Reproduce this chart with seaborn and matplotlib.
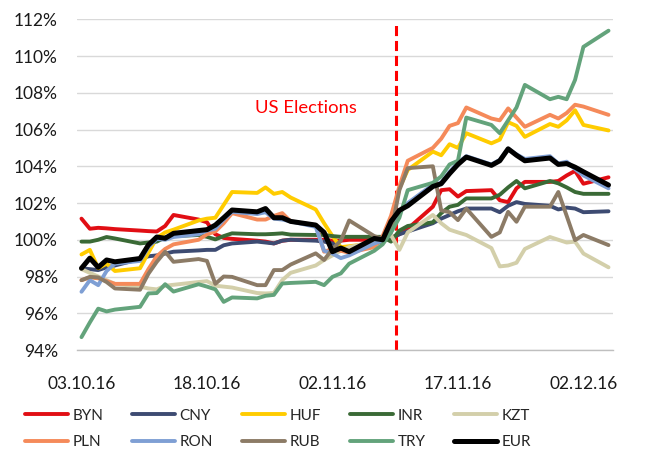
import numpy as np
import pandas as pd
import matplotlib
matplotlib.use("Agg")
import matplotlib.pyplot as plt
import matplotlib.dates as mdates
from matplotlib.ticker import FixedLocator, FuncFormatter
import seaborn as sns

# ---------------- data ----------------
dates = pd.bdate_range("2016-10-03", "2016-12-05")

currencies = ["BYN", "CNY", "HUF", "INR", "KZT", "PLN", "RON", "RUB", "TRY", "EUR"]

BYN = [101.15, 100.6, 100.65, 100.62, 100.58,
       100.5, 100.47, 100.45, 100.75, 101.35,
       101.1, 100.95, 100.3, 100.1, 100.05,
       99.95, 99.9, 99.8, 99.95, 100.0,
       100.0, 100.0, 99.95, 99.95, 100.0,
       100.0, 100.05, 100.1, 100.3, 100.6,
       101.8, 102.7, 102.75, 102.35, 102.65,
       102.7, 102.15, 102.05, 102.8, 103.15,
       103.15, 103.2, 103.5, 103.75, 103.05,
       103.4]
CNY = [98.45, 98.4, 98.35, 98.5, 98.6,
       98.95, 99.1, 99.15, 99.25, 99.35,
       99.42, 99.45, 99.45, 99.7, 99.8,
       99.9, 99.85, 99.8, 99.95, 100.0,
       99.95, 99.9, 99.8, 99.55, 99.55,
       99.75, 99.95, 100.1, 100.3, 100.45,
       100.9, 101.15, 101.35, 101.55, 101.7,
       101.7, 101.5, 101.85, 102.05, 101.95,
       101.85, 101.65, 101.75, 101.7, 101.5,
       101.55]
HUF = [99.2, 99.45, 98.45, 98.7, 98.3,
       98.45, 99.3, 100.1, 100.4, 100.55,
       101.05, 101.15, 101.2, 101.9, 102.6,
       102.55, 102.85, 102.5, 102.6, 102.3,
       101.65, 100.9, 100.2, 99.6, 99.65,
       99.8, 100.0, 101.0, 102.8, 103.8,
       104.8, 104.6, 105.2, 105.0, 105.8,
       105.25, 105.45, 106.4, 106.2, 105.6,
       106.3, 106.15, 106.5, 107.05, 106.25,
       105.95]
INR = [99.9, 99.9, 100.0, 100.15, 100.07,
       99.8, 99.85, 99.9, 100.13, 100.2,
       100.26, 100.16, 100.02, 100.2, 100.35,
       100.3, 100.3, 100.32, 100.35, 100.28,
       100.26, 100.26, 100.2, 100.16, 100.16,
       100.16, 100.16, 99.9, 100.5, 100.75,
       100.95, 101.45, 101.8, 101.9, 102.25,
       102.25, 102.45, 102.85, 103.2, 102.8,
       103.2, 103.07, 102.85, 102.6, 102.5,
       102.5]
KZT = [98.4, 98.2, 98.0, 97.8, 97.6,
       97.45, 97.35, 97.3, 97.5, 97.55,
       97.7, 97.75, 97.5, 97.45, 97.4,
       97.1, 97.08, 97.1, 97.8, 98.2,
       98.6, 98.9, 99.15, 99.4, 99.6,
       99.9, 100.1, 100.25, 99.45, 100.4,
       101.35, 100.9, 100.55, 100.4, 100.26,
       99.55, 98.55, 98.6, 98.75, 99.5,
       100.15, 100.0, 99.85, 99.9, 99.25,
       98.5]
PLN = [97.8, 97.95, 97.9, 97.75, 97.6,
       97.6, 98.4, 99.1, 99.5, 99.75,
       100.0, 100.3, 100.45, 100.9, 101.45,
       101.1, 101.1, 101.3, 101.45, 101.0,
       100.8, 99.35, 99.5, 99.4, 99.3,
       99.6, 100.2, 101.3, 102.9, 104.3,
       105.0, 105.5, 106.2, 106.35, 107.2,
       106.6, 106.5, 107.15, 106.65, 106.15,
       106.8, 106.6, 106.9, 107.35, 107.25,
       106.8]
RON = [97.17, 97.8, 97.53, 98.3, 98.7,
       98.85, 99.6, 100.05, 100.0, 100.15,
       100.3, 100.5, 100.6, 101.1, 101.52,
       101.4, 101.5, 101.15, 101.1, 101.0,
       100.7, 99.4, 99.25, 99.0, 99.15,
       99.8, 99.95, 100.5, 101.5, 102.0,
       103.0, 103.1, 103.7, 104.2, 104.55,
       104.1, 104.35, 104.95, 104.65, 104.4,
       104.55, 104.15, 104.25, 103.85, 103.5,
       102.8]
RUB = [97.8, 97.98, 97.95, 97.7, 97.35,
       97.28, 98.15, 98.8, 99.35, 98.8,
       98.95, 98.85, 97.6, 98.0, 97.98,
       97.53, 97.53, 98.35, 98.35, 98.65,
       99.26, 98.9, 99.5, 99.95, 101.05,
       100.2, 100.05, 100.4, 102.7, 103.9,
       104.0, 101.6, 101.5, 101.07, 101.7,
       100.16, 100.4, 101.52, 100.98, 101.8,
       101.8, 102.6, 101.3, 99.98, 100.26,
       99.71]
TRY = [94.7, 95.5, 96.25, 96.1, 96.2,
       96.35, 97.08, 97.1, 97.58, 97.18,
       97.58, 97.45, 97.3, 96.62, 96.86,
       96.81, 96.95, 97.0, 97.62, 97.65,
       97.71, 97.53, 97.98, 98.17, 98.7,
       99.4, 99.75, 100.4, 101.2, 102.7,
       103.1, 103.45, 104.1, 104.3, 106.65,
       106.25, 105.8, 106.5, 107.2, 108.43,
       107.65, 107.78, 107.65, 108.7, 110.5,
       111.38]
EUR = [98.45, 99.0, 98.5, 98.9, 98.8,
       98.98, 99.72, 100.15, 100.08, 100.35,
       100.5, 100.55, 100.8, 101.2, 101.62,
       101.52, 101.7, 101.2, 101.2, 101.0,
       100.8, 100.4, 99.35, 99.55, 99.35,
       100.07, 100.0, 101.0, 101.6, 101.85,
       102.9, 103.05, 103.6, 104.1, 104.5,
       104.05, 104.3, 104.95, 104.6, 104.3,
       104.45, 104.1, 104.15, 103.95, 103.7,
       102.98]

series = [BYN, CNY, HUF, INR, KZT, PLN, RON, RUB, TRY, EUR]

colors = {
    "BYN": "#E10E14", "CNY": "#3D4B72", "HUF": "#FFCC00", "INR": "#3A6A36",
    "KZT": "#D3CFAA", "PLN": "#F58A5A", "RON": "#7F9FD4", "RUB": "#8C7B66",
    "TRY": "#63A37B", "EUR": "#000000",
}

x_tick_dates = pd.date_range("2016-10-03", periods=5, freq="15D")
minor_tick_dates = pd.date_range("2016-10-03", "2016-12-05", freq="5D") - pd.Timedelta(hours=12)
election_line = pd.Timestamp("2016-11-09 14:00")
election_label = "US Elections"
label_pos = (pd.Timestamp("2016-10-29 20:00"), 107.17)

df = pd.DataFrame({
    "date": np.tile(dates, len(currencies)),
    "currency": np.repeat(currencies, len(dates)),
    "value": np.concatenate(series),
})

# ---------------- plot ----------------
sns.set_theme(style="white")
plt.rcParams["font.family"] = ["Lato", "DejaVu Sans"]

fig = plt.figure(figsize=(6.46, 4.55), dpi=100)
ax = fig.add_axes([77.3 / 646, 1 - 350 / 455, (612.7 - 77.3) / 646, (350 - 19.3) / 455])

sns.lineplot(data=df, x="date", y="value", hue="currency", hue_order=currencies,
             palette=colors, linewidth=2.8, legend=False, ax=ax)
lines = list(ax.lines)
for ln in lines:
    ln.set_solid_capstyle("round")
    ln.set_solid_joinstyle("round")
lines[-1].set_linewidth(3.6)

# election marker
ax.vlines(mdates.date2num(election_line), 94, 111.9, colors="#FF0000", linewidth=2.2,
          linestyles=(0, (3.3, 1.6)), zorder=1)
ax.text(label_pos[0], label_pos[1], election_label, color="#FF0000", fontsize=13.3,
        ha="center", va="center")

# y axis
ax.set_ylim(94, 112)
ax.yaxis.set_major_locator(FixedLocator(np.arange(94, 113, 2)))
ax.yaxis.set_major_formatter(FuncFormatter(lambda v, p: f"{v:.0f}%"))
ax.tick_params(axis="y", length=0, pad=14, labelsize=12.5, labelcolor="#1a1a1a")
ax.yaxis.grid(True, color="#D9D9D9", linewidth=1.0)
ax.xaxis.grid(False)
ax.set_axisbelow(True)

# x axis
ax.set_xlim(mdates.date2num(dates[0] - pd.Timedelta(hours=12)),
            mdates.date2num(dates[-1] + pd.Timedelta(hours=12)))
ax.xaxis.set_major_locator(FixedLocator(mdates.date2num(x_tick_dates)))
ax.xaxis.set_major_formatter(mdates.DateFormatter("%d.%m.%y"))
ax.xaxis.set_minor_locator(FixedLocator(mdates.date2num(minor_tick_dates)))
ax.tick_params(axis="x", which="major", length=0, pad=19, labelsize=12.5, labelcolor="#1a1a1a")
ax.tick_params(axis="x", which="minor", length=4, width=1, color="#BFBFBF", direction="out")
ax.set_xlabel("")
ax.set_ylabel("")

for s in ["left", "top", "right"]:
    ax.spines[s].set_visible(False)
ax.spines["bottom"].set_color("#BFBFBF")
ax.spines["bottom"].set_linewidth(1.0)

# legend (row-major order in 5 columns)
order = [0, 5, 1, 6, 2, 7, 3, 8, 4, 9]
fig.legend([lines[i] for i in order], [currencies[i] for i in order], ncol=5,
           loc="center left", bbox_to_anchor=(25 / 646, 1 - 429 / 455),
           frameon=False, fontsize=11, handlelength=2.8, handletextpad=0.3,
           columnspacing=1.9, labelspacing=0.85, borderpad=0, borderaxespad=0)

fig.savefig("out.png", dpi=100)
